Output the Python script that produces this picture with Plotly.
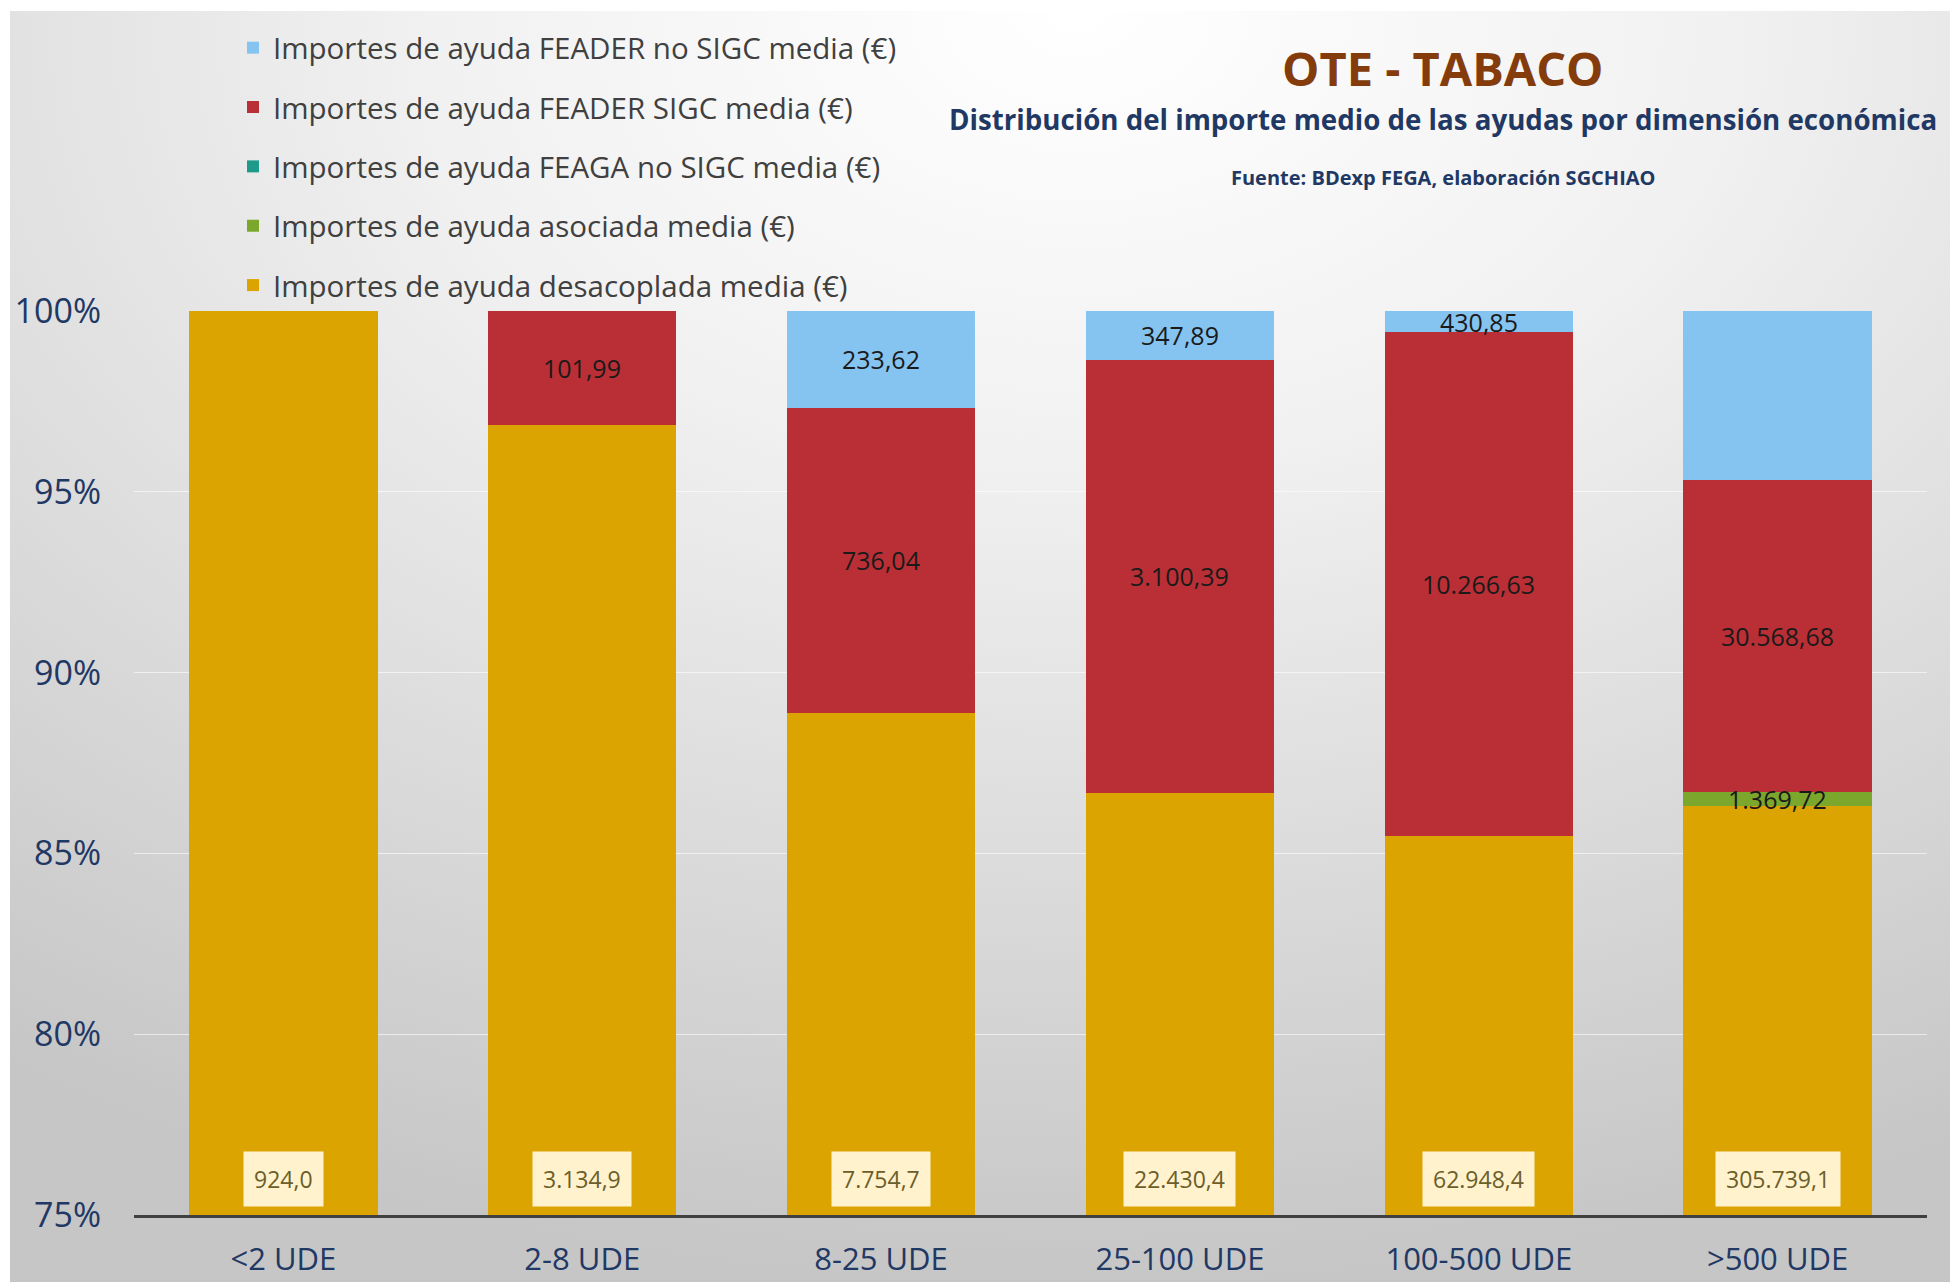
import base64
import plotly.graph_objects as go

# ---------------- data ----------------
categories = ["<2 UDE", "2-8 UDE", "8-25 UDE", "25-100 UDE", "100-500 UDE", ">500 UDE"]
desacoplada = [924.0, 3134.9, 7754.7, 22430.4, 62948.4, 305739.1]
asociada = [0, 0, 0, 0, 0, 1369.72]
feaga_no_sigc = [0, 0, 0, 0, 0, 0]
feader_sigc = [0, 101.99, 736.04, 3100.39, 10266.63, 30568.68]
feader_no_sigc = [0, 0, 233.62, 347.89, 430.85, 16540.0]
feader_no_sigc_label_visible = [False, False, True, True, True, False]

series_names = [
    "Importes de ayuda desacoplada media (€)",
    "Importes de ayuda asociada media (€)",
    "Importes de ayuda FEAGA no SIGC media (€)",
    "Importes de ayuda FEADER SIGC media (€)",
    "Importes de ayuda FEADER no SIGC media (€)",
]
y_ticks = [75, 80, 85, 90, 95, 100]

# ---------------- styling ----------------
W, H = 1950, 1282
ML, MR, MT, MB = 134, 23, 311, 67
colors = ["#DBA400", "#7BA72C", "#1E9A8A", "#BA2F35", "#85C4F0"]
navy = "#1F3864"
font_main = "Open Sans, Noto Sans, sans-serif"
LABEL_SIZE = 25


def fmt(v, d):
    s = f"{v:,.{d}f}"
    return s.replace(",", "X").replace(".", ",").replace("X", ".")


fig = go.Figure()
series = [desacoplada, asociada, feaga_no_sigc, feader_sigc, feader_no_sigc]
visibility = [
    [False] * len(categories),          # desacoplada: boxed labels at the base instead
    [True] * len(categories),
    [True] * len(categories),
    [True] * len(categories),
    feader_no_sigc_label_visible,
]
n = len(series)
for i, (name, vals) in enumerate(zip(series_names, series)):
    yvals = [v if v != 0 else None for v in vals]
    fig.add_trace(go.Bar(
        x=categories, y=yvals, name=name,
        marker=dict(color=colors[i], line=dict(width=0)),
        legendgroup=f"g{i}", legendrank=n - i, hoverinfo="skip", showlegend=True,
    ))

# segment value labels, centred in each stacked segment (percent scale of barnorm)
totals = [sum(s[j] for s in series) for j in range(len(categories))]
for j, c in enumerate(categories):
    cum = 0.0
    for i, vals in enumerate(series):
        v = vals[j]
        if v != 0 and visibility[i][j]:
            mid = (cum + v / 2) / totals[j] * 100
            fig.add_annotation(
                x=c, y=mid, xref="x", yref="y", text=fmt(v, 2), showarrow=False,
                xanchor="center", yanchor="middle",
                font=dict(size=LABEL_SIZE, color="#1A1A1A", family=font_main),
            )
        cum += v

# desacoplada boxed labels at base of the bars
for c, v in zip(categories, desacoplada):
    fig.add_annotation(
        x=c, y=y_ticks[0], xref="x", yref="y", yanchor="bottom", yshift=8,
        text=fmt(v, 1), showarrow=False, bgcolor="#FFF2CC", borderpad=10,
        height=34, font=dict(size=23, color="#6B5E2A", family=font_main),
    )

# background gradient (inset by a thin white border as in the original picture)
BX, BY = 10, 11
svg = (
    '<svg xmlns="http://www.w3.org/2000/svg" width="1940" height="1271" preserveAspectRatio="none">'
    '<defs><radialGradient id="g" cx="0.55" cy="0.05" r="0.95" fx="0.55" fy="0.0">'
    '<stop offset="0" stop-color="#FFFFFF"/>'
    '<stop offset="0.35" stop-color="#F1F1F1"/>'
    '<stop offset="1" stop-color="#C6C6C6"/>'
    '</radialGradient></defs>'
    '<rect width="1940" height="1271" fill="url(#g)"/></svg>'
)
src = "data:image/svg+xml;base64," + base64.b64encode(svg.encode()).decode()
pw, ph = W - ML - MR, H - MT - MB
fig.add_layout_image(
    source=src, xref="paper", yref="paper",
    x=(BX - ML) / pw, y=1 + (MT - BY) / ph, sizex=(W - BX) / pw, sizey=(H - BY) / ph,
    xanchor="left", yanchor="top", sizing="stretch", layer="below",
)

# titles
px_title = (1443 - ML) / pw
title_specs = [
    ("<b>OTE - TABACO</b>", 68, 47, "#843C0C"),
    ("<b>Distribución del importe medio de las ayudas por dimensión económica</b>", 119, 27.7, navy),
    ("<b>Fuente: BDexp FEGA, elaboración SGCHIAO</b>", 177, 20, navy),
]
for txt, ypx, size, col in title_specs:
    fig.add_annotation(text=txt, x=px_title, y=(H - MB - ypx) / ph,
                       xref="paper", yref="paper", xanchor="center", yanchor="middle",
                       showarrow=False, font=dict(size=size, color=col, family=font_main))

fig.update_layout(
    width=W, height=H,
    margin=dict(l=ML, r=MR, t=MT, b=MB, pad=0, autoexpand=False),
    barmode="stack", barnorm="percent", bargap=0.37,
    paper_bgcolor="#FFFFFF", plot_bgcolor="rgba(0,0,0,0)",
    showlegend=True,
    legend=dict(
        x=233 / W, y=1 - 22 / H, xref="container", yref="container",
        xanchor="left", yanchor="top", traceorder="grouped",
        tracegroupgap=18, bgcolor="rgba(0,0,0,0)",
        font=dict(size=29.5, color="#404040", family=font_main),
    ),
    font=dict(family=font_main),
)
fig.update_yaxes(
    range=[75, 100], tickvals=y_ticks, ticktext=[f"{t}%" for t in y_ticks],
    showgrid=True, gridcolor="rgba(255,255,255,0.6)", gridwidth=1,
    zeroline=False, showline=False, ticks="", automargin=False,
    tickfont=dict(size=34, color=navy, family=font_main), ticklabelstandoff=32,
)
fig.update_xaxes(
    showline=True, linecolor="#404040", linewidth=3, ticks="", automargin=False,
    tickangle=0,
    tickfont=dict(size=31, color=navy, family=font_main), ticklabelstandoff=15,
)

fig.write_html(
    "out.html",
    config={"displayModeBar": False},
    post_script="document.body.style.margin='0';document.body.style.background='#FFFFFF';",
)
